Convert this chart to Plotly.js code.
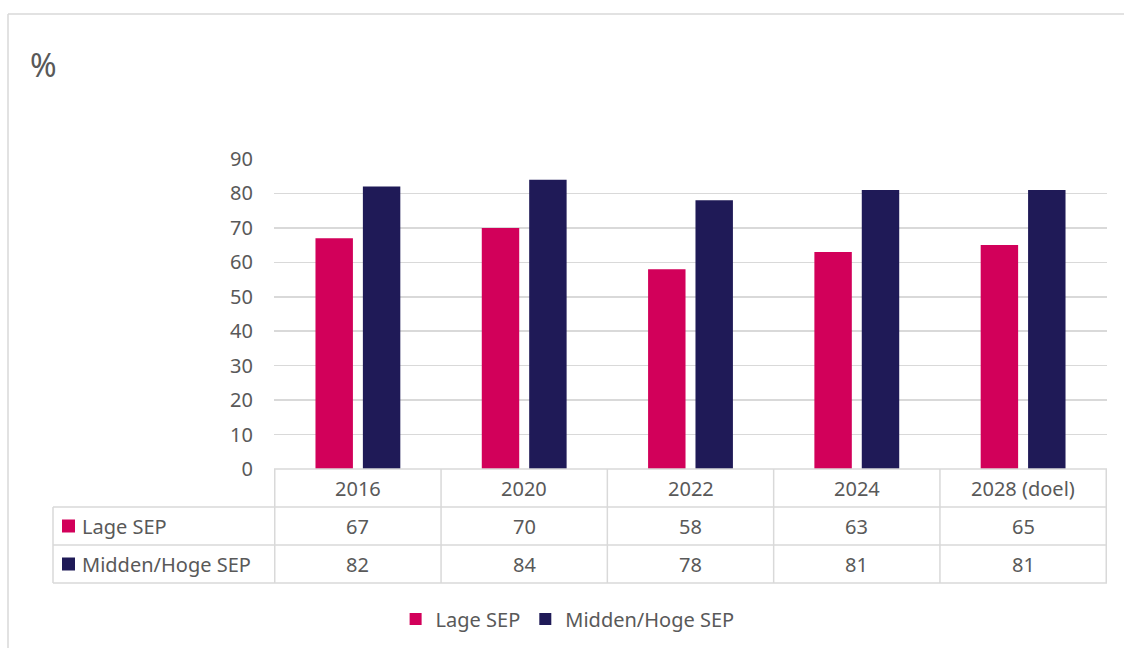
<!DOCTYPE html>
<html>
<head>
<meta charset="utf-8">
<script src="https://cdn.plot.ly/plotly-3.0.1.min.js"></script>
<style>html,body{margin:0;padding:0;background:#fff;}#chart{width:1124px;height:648px;}</style>
</head>
<body>
<div id="chart"></div>
<script>
const categories = ["2016", "2020", "2022", "2024", "2028 (doel)"];
const seriesNames = ["Lage SEP", "Midden/Hoge SEP"];
const lageSEP = [67, 70, 58, 63, 65];
const middenHogeSEP = [82, 84, 78, 81, 81];
const yTicks = [0, 10, 20, 30, 40, 50, 60, 70, 80, 90];
const unitLabel = "%";

const colors = ["#d2005a", "#1f1a57"];
const textColor = "#595959";
const lineColor = "#d9d9d9";
const font = "Noto Sans, Inter, sans-serif";
const fs = 20;

const W = 1124, H = 648;
const L = 274, R = 1107, T = 159, B = 469;
const px = x => (x - L) / (R - L);
const py = y => (B - y) / (B - T);

const traces = [
  {type: "bar", name: seriesNames[0], x: categories, y: lageSEP, marker: {color: colors[0]}, hoverinfo: "none"},
  {type: "bar", name: seriesNames[1], x: categories, y: middenHogeSEP, marker: {color: colors[1]}, hoverinfo: "none"}
];

const shapes = [];
const annotations = [];
const ln = {color: lineColor, width: 1.5};

// outer frame
shapes.push({type: "line", xref: "paper", yref: "paper", x0: px(8), x1: px(1124), y0: py(14), y1: py(14), line: ln});
shapes.push({type: "line", xref: "paper", yref: "paper", x0: px(8), x1: px(8), y0: py(14), y1: py(648), line: ln});

// table rows
const rowY = [469, 507, 545, 583];
shapes.push({type: "line", xref: "paper", yref: "paper", x0: 0, x1: 1, y0: py(rowY[0]), y1: py(rowY[0]), line: ln});
for (let r = 1; r < rowY.length; r++) {
  shapes.push({type: "line", xref: "paper", yref: "paper", x0: px(53), x1: 1, y0: py(rowY[r]), y1: py(rowY[r]), line: ln});
}
shapes.push({type: "line", xref: "paper", yref: "paper", x0: px(53), x1: px(53), y0: py(507), y1: py(583), line: ln});
for (let i = 0; i <= categories.length; i++) {
  shapes.push({type: "line", xref: "x", yref: "paper", x0: i - 0.5, x1: i - 0.5, y0: py(469), y1: py(583), line: ln});
}

// header row
categories.forEach((c, i) => {
  annotations.push({xref: "x", yref: "paper", x: i, y: py(488), text: c, showarrow: false, xanchor: "center", yanchor: "middle", font: {family: font, size: fs, color: textColor}});
});
// data rows
const rows = [lageSEP, middenHogeSEP];
const rowCenters = [526, 564];
rows.forEach((vals, r) => {
  shapes.push({type: "rect", xref: "paper", yref: "paper", x0: px(62), x1: px(75), y0: py(rowCenters[r] - 6.5), y1: py(rowCenters[r] + 6.5), fillcolor: colors[r], line: {width: 0}});
  annotations.push({xref: "paper", yref: "paper", x: px(80), y: py(rowCenters[r]), text: seriesNames[r], showarrow: false, xanchor: "left", yanchor: "middle", font: {family: font, size: fs, color: textColor}});
  vals.forEach((v, i) => {
    annotations.push({xref: "x", yref: "paper", x: i, y: py(rowCenters[r]), text: String(v), showarrow: false, xanchor: "center", yanchor: "middle", font: {family: font, size: fs, color: textColor}});
  });
});

// unit label
annotations.push({xref: "paper", yref: "paper", x: px(28), y: py(64), text: unitLabel, showarrow: false, xanchor: "left", yanchor: "middle", font: {family: font, size: 32, color: textColor}});

const layout = {
  width: W, height: H,
  margin: {l: L, r: W - R, t: T, b: H - B, pad: 0},
  paper_bgcolor: "#fff", plot_bgcolor: "#fff",
  font: {family: font, color: textColor, size: fs},
  barmode: "group", bargap: 0.43, bargroupgap: 0.21,
  xaxis: {type: "category", showticklabels: false, showgrid: false, zeroline: false, showline: false, ticks: "", fixedrange: true},
  yaxis: {range: [0, 90], tickvals: yTicks, ticktext: yTicks.map(String), showgrid: true, gridcolor: lineColor, gridwidth: 1.5, zeroline: false, showline: false, ticks: "", ticklabelstandoff: 20, tickfont: {family: font, size: fs, color: textColor}, fixedrange: true},
  showlegend: true,
  legend: {orientation: "h", xref: "container", yref: "container", x: 0.505, xanchor: "center", y: (H - 619) / H, yanchor: "middle", font: {family: font, size: fs, color: textColor}, itemwidth: 30, traceorder: "normal"},
  shapes: shapes,
  annotations: annotations
};

Plotly.newPlot("chart", traces, layout, {displayModeBar: false, staticPlot: true});
</script>
</body>
</html>
